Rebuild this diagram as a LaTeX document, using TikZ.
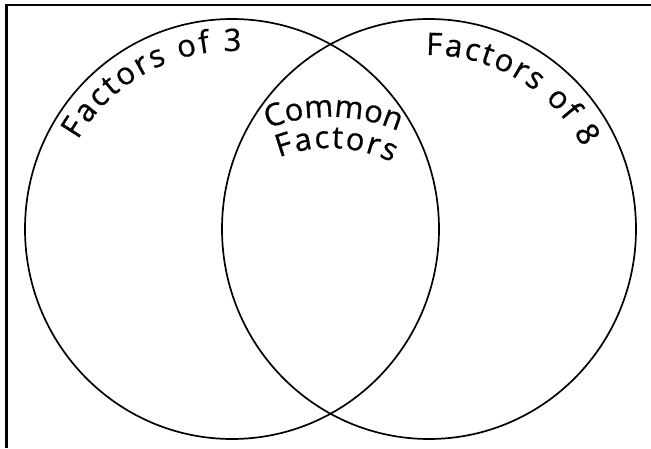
\documentclass[tikz,border=0pt]{standalone}
\usepackage{fontspec}
\setmainfont{Open Sans}
\usepackage{tikz}
\usetikzlibrary{shapes.geometric, decorations.text}

\tikzset{
  setring/.style={ellipse, draw, line width=1.7pt, minimum width=414pt, minimum height=420pt, inner sep=0pt},
  arclabel/.style={decorate, decoration={text along path, text align=fit to path, text={#1}}}
}

\begin{document}
\begin{tikzpicture}[x=1pt, y=1pt]
  \fontsize{31}{36}\selectfont\addfontfeature{FakeBold=0.7}
  \useasboundingbox (0,0) rectangle (651,448);
  % frame (only left and top edges show)
  \draw[line width=2.2pt] (6.5,0) |- (651,443);

  % the two sets
  \node[setring] (three) at (232,219) {};
  \node[setring] (eight) at (429,219) {};
  \coordinate (both) at (330,158);

  % curved labels
  \path[arclabel={Factors of 3}] (three.center) ++(150:178) arc[start angle=150, end angle=87, radius=178];
  \path[arclabel={Factors of 8}] (eight.center) ++(91:174) arc[start angle=91, end angle=28, radius=174];
  \path[arclabel={Common}] (both) ++(111:173) arc[start angle=111, end angle=67, radius=173];
  \path[arclabel={Factors}] (both) ++(111:142) arc[start angle=111, end angle=64, radius=142];
\end{tikzpicture}
\end{document}
